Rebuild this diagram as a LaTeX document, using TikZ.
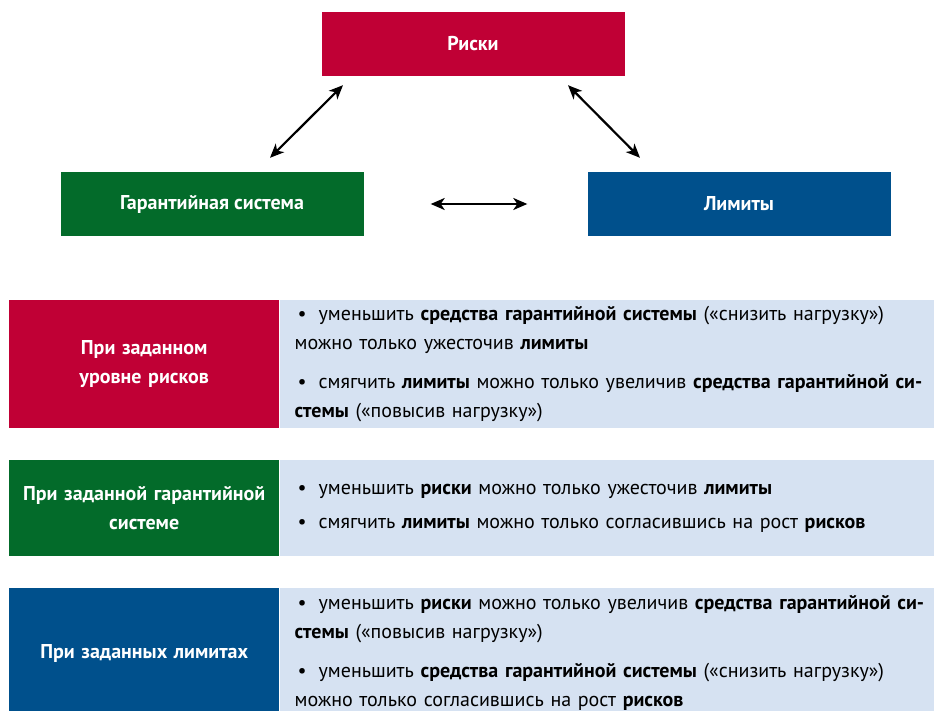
\documentclass[tikz,border=0pt]{standalone}
\usepackage{fontspec}
\setmainfont{PT Sans}
\usepackage{tikz}
\usetikzlibrary{arrows.meta,positioning}
\definecolor{riskred}{HTML}{C00035}
\definecolor{guargreen}{HTML}{036B2A}
\definecolor{limblue}{HTML}{00508C}
\definecolor{paleblue}{HTML}{D6E2F2}
\tikzset{
	box/.style = {
		shape=rectangle,
		minimum width=303pt,
		minimum height=64pt,
		inner sep=0pt,
		text=white,
		font=\bfseries\fontsize{20}{24}\selectfont
	},
	tag/.style = {
		shape=rectangle,
		anchor=north west,
		minimum width=270pt,
		text width=264pt,
		align=center,
		inner sep=0pt,
		text=white,
		font=\bfseries\fontsize{20}{29}\selectfont
	},
	info/.style = {
		shape=rectangle,
		fill=paleblue,
		minimum width=655pt,
		text width=636pt,
		align=left,
		inner xsep=15pt,
		inner ysep=0pt,
		font=\fontsize{20}{29}\selectfont
	},
	twoway/.style = {
		{Stealth[length=14pt,width=12pt,inset=4pt]}-{Stealth[length=14pt,width=12pt,inset=4pt]},
		line width=2.2pt
	}
}
\newcommand{\point}{\hspace*{3pt}\textbullet\hspace{12pt}}

\begin{document}
\begin{tikzpicture}[x=1pt,y=-1pt]
	\useasboundingbox (0,0) rectangle (934,711);
	\node[box, fill=riskred] (risk) at (473,44) {Риски};
	\node[box, fill=guargreen] (guar) at (212,204) {Гарантийная система};
	\node[box, fill=limblue] (lim) at (739,204) {Лимиты};

	\draw[twoway] ([shift={(58,-14)}]guar.north) -- ([shift={(-130,9)}]risk.south);
	\draw[twoway] ([shift={(95,9)}]risk.south) -- ([shift={(-99,-14)}]lim.north);
	\draw[twoway] ([xshift=67pt]guar.east) -- ([xshift=-60pt]lim.west);

	\node[tag, fill=riskred, minimum height=128pt] (tagrisk) at (9,300)
		{При заданном\\уровне рисков};
	\node[info, minimum height=128pt, right=0pt of tagrisk] (inforisk) {
		\point уменьшить \textbf{средства гарантийной системы} («снизить нагрузку»)\\
		можно только ужесточив \textbf{лимиты}\\[10pt]
		\point смягчить \textbf{лимиты} можно только увеличив \textbf{средства гарантийной си-}\\
		\textbf{стемы} («повысив нагрузку»)
	};

	\node[tag, fill=guargreen, minimum height=96pt] (tagguar) at (9,460)
		{При заданной гарантийной\\системе};
	\node[info, minimum height=96pt, right=0pt of tagguar] (infoguar) {
		\point уменьшить \textbf{риски} можно только ужесточив \textbf{лимиты}\\[5pt]
		\point смягчить \textbf{лимиты} можно только согласившись на рост \textbf{рисков}
	};

	\node[tag, fill=limblue, minimum height=130pt] (taglim) at (9,588)
		{При заданных лимитах};
	\node[info, minimum height=130pt, right=0pt of taglim] (infolim) {
		\point уменьшить \textbf{риски} можно только увеличив \textbf{средства гарантийной си-}\\
		\textbf{стемы} («повысив нагрузку»)\\[10pt]
		\point уменьшить \textbf{средства гарантийной системы} («снизить нагрузку»)\\
		можно только согласившись на рост \textbf{рисков}
	};
\end{tikzpicture}
\end{document}
